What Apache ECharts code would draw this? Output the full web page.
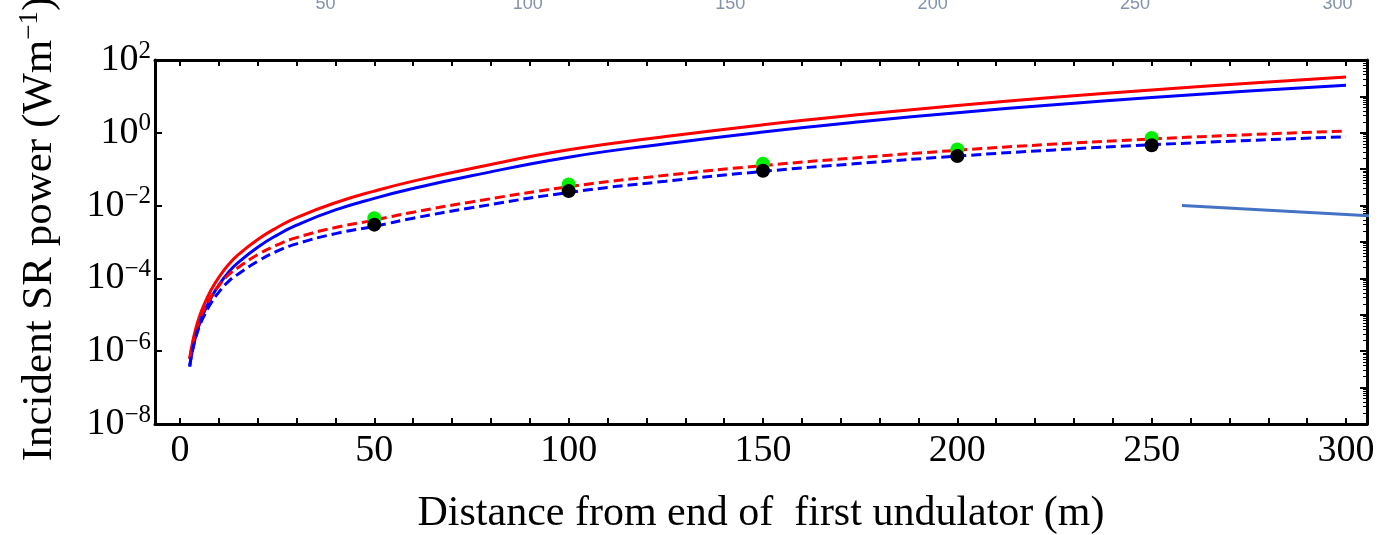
<!DOCTYPE html>
<html>
<head>
<meta charset="utf-8">
<script src="https://cdn.jsdelivr.net/npm/echarts@6/dist/echarts.min.js"></script>
<style>
  html, body { margin: 0; padding: 0; background: #fff; }
  #chart { width: 1383px; height: 535px; }
</style>
</head>
<body>
<div id="chart"></div>
<script>
// distance from end of first undulator (m)
const distances = [2.5, 3, 4, 5, 6, 8, 10, 12.5, 15, 20, 25, 30, 40, 50, 60, 75, 100, 125, 150, 175, 200, 225, 250, 275, 300];

// incident SR power (W/m)
const redSolid = [6.3e-7, 1.32e-6, 3.98e-6, 8.9e-6, 1.7e-5, 4.8e-5, 1.07e-4, 2.4e-4, 4.5e-4, 1.17e-3, 2.5e-3, 4.7e-3, 0.012, 0.025, 0.047, 0.105, 0.34, 0.79, 1.66, 3.16, 5.6, 9.5, 15.1, 22.9, 33.9];
const blueSolid = [3.8e-7, 8.1e-7, 2.45e-6, 5.5e-6, 1.05e-5, 2.95e-5, 6.6e-5, 1.48e-4, 2.75e-4, 7.2e-4, 1.55e-3, 2.9e-3, 7.6e-3, 0.0158, 0.0295, 0.066, 0.214, 0.5, 1.05, 2.0, 3.55, 5.9, 9.3, 14.1, 20.4];
const redDashed = [6.0e-7, 1.2e-6, 3.4e-6, 7.1e-6, 1.26e-5, 3.16e-5, 6.3e-5, 1.26e-4, 2.0e-4, 4.5e-4, 8.3e-4, 1.32e-3, 2.5e-3, 4.0e-3, 6.6e-3, 0.0126, 0.033, 0.068, 0.126, 0.209, 0.331, 0.49, 0.676, 0.89, 1.12];
const blueDashed = [3.8e-7, 7.9e-7, 2.24e-6, 4.8e-6, 8.5e-6, 2.1e-5, 4.2e-5, 8.3e-5, 1.32e-4, 2.95e-4, 5.6e-4, 8.9e-4, 1.7e-3, 2.7e-3, 4.5e-3, 8.7e-3, 0.0229, 0.0468, 0.087, 0.145, 0.229, 0.339, 0.468, 0.617, 0.776];

// simulated points
const pointDistances = [50, 100, 150, 200, 250];
const greenPoints = [4.5e-3, 0.038, 0.141, 0.347, 0.72];
const blackPoints = [3.0e-3, 0.025, 0.091, 0.229, 0.457];

// stray annotation line at the right edge
const arrowX = [257.8, 309.6];
const arrowY = [1.0e-2, 5.0e-3];

const xTickLabels = [0, 50, 100, 150, 200, 250, 300];
const xMinorTicks = [0, 10, 20, 30, 40, 50, 60, 70, 80, 90, 100, 110, 120, 130, 140, 150, 160, 170, 180, 190, 200, 210, 220, 230, 240, 250, 260, 270, 280, 290, 300];
const topGhostLabels = [50, 100, 150, 200, 250, 300];
const yTickLabels = [1e-8, 1e-6, 1e-4, 1e-2, 1e0, 1e2];
const yDecades = [1e-8, 1e-7, 1e-6, 1e-5, 1e-4, 1e-3, 1e-2, 1e-1, 1e0, 1e1, 1e2];
const yMinorSteps = [2, 3, 4, 5, 6, 7, 8, 9];
const yMinorTicks = yDecades.slice(0, -1).flatMap((d) => yMinorSteps.map((m) => m * d));

const serif = "'Liberation Serif', 'Times New Roman', serif";

const chart = echarts.init(document.getElementById('chart'), null, { renderer: 'canvas' });

const pairs = (xsArr, ysArr) => xsArr.map((x, i) => [x, ysArr[i]]);

const frameLine = { show: true, onZero: false, lineStyle: { color: '#000', width: 3 } };

const logAxis = (extra) => Object.assign({
  type: 'log',
  logBase: 10,
  min: 1e-8,
  max: 1e2,
  axisLine: { show: false, onZero: false },
  axisLabel: { show: false },
  splitLine: { show: false },
}, extra);

const option = {
  animation: false,
  grid: { left: 155, right: 16, top: 60, bottom: 111, containLabel: false, outerBoundsMode: 'none' },
  xAxis: [
    {
      type: 'value',
      position: 'bottom',
      min: -6.43,
      max: 305.4,
      axisLine: frameLine,
      axisTick: { show: true, inside: true, length: 6, customValues: xMinorTicks, lineStyle: { color: '#000', width: 2 } },
      axisLabel: { customValues: xTickLabels, color: '#000', fontFamily: serif, fontSize: 38, margin: 8 },
      splitLine: { show: false },
      name: 'Distance from end of  first undulator (m)',
      nameLocation: 'middle',
      nameGap: 69,
      nameTextStyle: { color: '#000', fontFamily: serif, fontSize: 42 },
    },
    {
      type: 'value',
      position: 'top',
      min: -6.43,
      max: 305.4,
      axisLine: frameLine,
      axisTick: { show: true, inside: true, length: 6, customValues: xMinorTicks, lineStyle: { color: '#000', width: 2 } },
      axisLabel: { show: false },
      splitLine: { show: false },
    },
    {
      // faint labels from a neighbouring figure, cut off at the top
      type: 'value',
      position: 'top',
      min: 7.9,
      max: 307.3,
      axisLine: { show: false, onZero: false },
      axisTick: { show: false },
      axisLabel: { customValues: topGhostLabels, color: '#8193ad', fontFamily: "'Liberation Sans', Arial, sans-serif", fontSize: 18, margin: 47 },
      splitLine: { show: false },
    },
  ],
  yAxis: [
    logAxis({
      position: 'left',
      axisLine: frameLine,
      axisTick: { show: true, inside: true, length: 7, customValues: yTickLabels, lineStyle: { color: '#000', width: 2 } },
      axisLabel: {
        show: true,
        customValues: yTickLabels,
        margin: 4,
        formatter: (v) => {
          const e = Math.round(Math.log10(v));
          return '{b|10}{s|' + (e < 0 ? '\u2212' + (-e) : e) + '}';
        },
        rich: {
          b: { fontFamily: serif, fontSize: 38, color: '#000' },
          s: { fontFamily: serif, fontSize: 25, color: '#000', padding: [0, 0, 18, 0] },
        },
      },
      name: '{t|Incident SR power (Wm}{s|\u22121}{t|)}',
      nameLocation: 'middle',
      nameRotate: 90,
      nameGap: 92,
      nameTextStyle: {
        padding: [0, 0, 0, 26],
        rich: {
          t: { fontFamily: serif, fontSize: 43, color: '#000' },
          s: { fontFamily: serif, fontSize: 27, color: '#000', padding: [0, 0, 20, 0] },
        },
      },
    }),
    logAxis({
      position: 'right',
      axisLine: frameLine,
      axisTick: { show: true, inside: true, length: 7, customValues: yDecades, lineStyle: { color: '#000', width: 2 } },
    }),
    logAxis({
      position: 'right',
      axisTick: { show: true, inside: true, length: 4, customValues: yMinorTicks, lineStyle: { color: '#000', width: 1 } },
    }),
  ],
  series: [
    {
      name: 'red solid',
      type: 'line',
      data: pairs(distances, redSolid),
      smooth: true,
      showSymbol: false,
      lineStyle: { color: '#ff0000', width: 3 },
    },
    {
      name: 'blue solid',
      type: 'line',
      data: pairs(distances, blueSolid),
      smooth: true,
      showSymbol: false,
      lineStyle: { color: '#0000ff', width: 3 },
    },
    {
      name: 'red dashed',
      type: 'line',
      data: pairs(distances, redDashed),
      smooth: true,
      showSymbol: false,
      lineStyle: { color: '#ff0000', width: 3, type: [10, 5] },
    },
    {
      name: 'blue dashed',
      type: 'line',
      data: pairs(distances, blueDashed),
      smooth: true,
      showSymbol: false,
      lineStyle: { color: '#0000ff', width: 3, type: [10, 5] },
    },
    {
      name: 'green points',
      type: 'scatter',
      data: pairs(pointDistances, greenPoints),
      symbol: 'circle',
      symbolSize: 14,
      itemStyle: { color: '#00f000', opacity: 1 },
      z: 5,
    },
    {
      name: 'black points',
      type: 'scatter',
      data: pairs(pointDistances, blackPoints),
      symbol: 'circle',
      symbolSize: 14,
      itemStyle: { color: '#000', opacity: 1 },
      z: 6,
    },
    {
      name: 'annotation',
      type: 'line',
      data: pairs(arrowX, arrowY),
      showSymbol: false,
      clip: false,
      lineStyle: { color: '#4472c4', width: 3 },
      z: 7,
    },
  ],
};

chart.setOption(option);
window.addEventListener('resize', () => chart.resize());
</script>
</body>
</html>
